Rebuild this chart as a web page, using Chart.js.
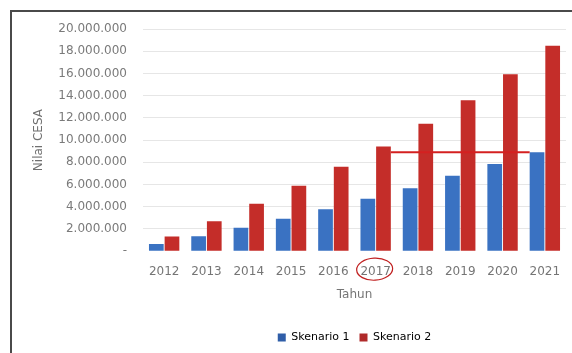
<!DOCTYPE html>
<html>
<head>
<meta charset="utf-8">
<script src="https://cdn.jsdelivr.net/npm/chart.js@4.4.0/dist/chart.umd.min.js"></script>
<style>
  html, body { margin: 0; padding: 0; background: #fff; }
  body { width: 572px; height: 353px; position: relative; overflow: hidden; }
  .frame {
    position: absolute; left: 10px; top: 10px; width: 562px; height: 343px;
    border-top: 2px solid #4a4a4a; border-left: 2px solid #4a4a4a;
    box-sizing: border-box;
  }
  .wrap { position: absolute; left: 12px; top: 12px; width: 560px; height: 341px; }
</style>
</head>
<body>
<div class="frame"></div>
<div class="wrap"><canvas id="chart1"></canvas></div>
<script>
// data
const years = ['2012', '2013', '2014', '2015', '2016', '2017', '2018', '2019', '2020', '2021'];
const skenario1 = [640000, 1340000, 2100000, 2910000, 3770000, 4730000, 5670000, 6790000, 7850000, 8900000];
const skenario2 = [1320000, 2700000, 4270000, 5880000, 7600000, 9420000, 11480000, 13590000, 15930000, 18490000];
const yTicks = [0, 2000000, 4000000, 6000000, 8000000, 10000000, 12000000, 14000000, 16000000, 18000000, 20000000];

const markYear = 5; // 2017, circled
const lineFrom = 5; // red line from 2017 red bar ...
const lineTo = 9;   // ... to 2021 blue bar, at 2021 blue value

function fmt(v) {
  if (v === 0) return '-';
  return v.toLocaleString('en-US').replace(/,/g, '.');
}

// red marker line + circle around the 2017 label
const marks = {
  id: 'marks',
  afterLayout(chart) {
    // legend sits centred under the plot, not under the whole canvas
    const lg = chart.legend;
    const dx = (chart.chartArea.left + chart.chartArea.right) / 2 - (lg.left + lg.right) / 2;
    lg.left += dx;
    lg.right += dx;
  },
  afterDatasetsDraw(chart) {
    const c = chart.ctx;
    const red = chart.getDatasetMeta(1).data[lineFrom];
    const blue = chart.getDatasetMeta(0).data[lineTo];
    const y = chart.scales.y.getPixelForValue(skenario1[lineTo]);
    c.save();
    c.strokeStyle = '#d42020';
    c.lineWidth = 2;
    c.beginPath();
    c.moveTo(red.x + red.width / 2, y);
    c.lineTo(blue.x - blue.width / 2, y);
    c.stroke();
    c.restore();
  },
  afterDraw(chart) {
    const c = chart.ctx;
    const x = chart.scales.x.getPixelForValue(markYear);
    const y = chart.scales.x.top + 18;
    c.save();
    c.strokeStyle = '#c02020';
    c.lineWidth = 1.2;
    c.beginPath();
    c.ellipse(x - 1, y, 18, 11, -0.05, 0, Math.PI * 2);
    c.stroke();
    c.restore();
  }
};

function shade(dark, mid, light) {
  return ctx => {
    const el = ctx.element;
    if (!el || el.width === undefined || isNaN(el.x)) return mid;
    const g = ctx.chart.ctx.createLinearGradient(el.x - el.width / 2, 0, el.x + el.width / 2, 0);
    g.addColorStop(0, dark);
    g.addColorStop(0.35, light);
    g.addColorStop(0.6, mid);
    g.addColorStop(1, dark);
    return g;
  };
}

const ctx = document.getElementById('chart1');
const chart1 = new Chart(ctx, {
  type: 'bar',
  data: {
    labels: years,
    datasets: [{
      label: 'Skenario 1',
      data: skenario1,
      backgroundColor: shade('#2857a0', '#3a72c2', '#4f8ad6'),
      borderWidth: 0,
      categoryPercentage: 0.74,
      barPercentage: 0.94
    }, {
      label: 'Skenario 2',
      data: skenario2,
      backgroundColor: shade('#9c1e1c', '#c42d29', '#d9423d'),
      borderWidth: 0,
      categoryPercentage: 0.74,
      barPercentage: 0.94
    }]
  },
  options: {
    responsive: true,
    maintainAspectRatio: false,
    animation: false,
    layout: { padding: { left: 16, top: 17, right: 6, bottom: 0 } },
    plugins: {
      tooltip: { enabled: false },
      legend: {
        position: 'bottom',
        labels: {
          boxWidth: 8, boxHeight: 8, padding: 10,
          color: '#5a6a88',
          font: { family: 'DejaVu Sans', size: 11 },
          generateLabels: chart => chart.data.datasets.map((d, i) => ({
            text: d.label,
            fillStyle: i === 0 ? '#2f5ea8' : '#b02a2a',
            strokeStyle: i === 0 ? '#2f5ea8' : '#b02a2a',
            lineWidth: 0,
            datasetIndex: i
          }))
        }
      }
    },
    scales: {
      x: {
        grid: { display: false },
        border: { display: false },
        ticks: { color: '#757575', font: { family: 'DejaVu Sans', size: 12 }, padding: 5 },
        title: { display: true, text: 'Tahun', color: '#757575', font: { family: 'DejaVu Sans', size: 12 }, padding: { top: 4, bottom: 20 } }
      },
      y: {
        min: 0, max: 20000000,
        afterBuildTicks: s => { s.ticks = yTicks.map(v => ({ value: v })); },
        afterFit: s => { s.width = 115; s.paddingTop = 0; s.paddingBottom = 0; },
        grid: {
          color: ctx => ctx.tick && ctx.tick.value === 0 ? 'rgba(0,0,0,0)' : '#e6e6e6',
          drawTicks: false
        },
        border: { display: false },
        ticks: {
          color: '#7a7a7a', padding: 16,
          font: { family: 'DejaVu Sans', size: 12 },
          callback: v => fmt(v)
        },
        title: { display: true, text: 'Nilai CESA', color: '#707070', font: { family: 'DejaVu Sans', size: 12 }, padding: 4 }
      }
    }
  },
  plugins: [marks]
});
</script>
</body>
</html>
